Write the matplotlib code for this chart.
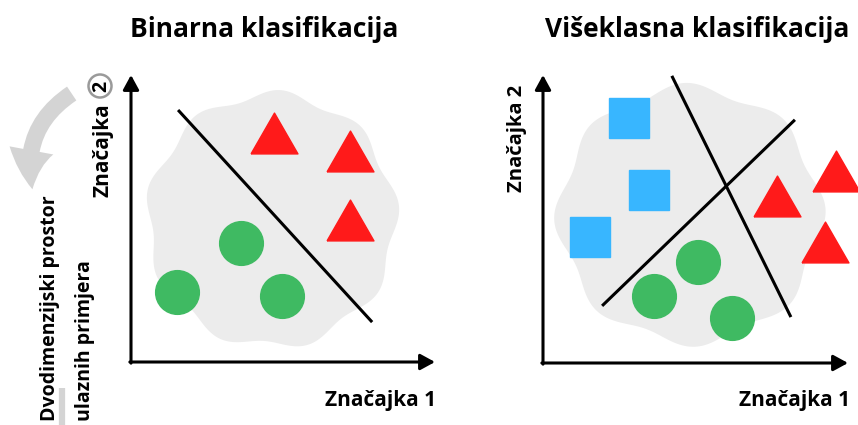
import numpy as np
import matplotlib.pyplot as plt
from matplotlib.patches import FancyArrowPatch, Circle

plt.rcParams['font.family'] = ['Open Sans', 'DejaVu Sans']

# --- data (feature space of each panel) ---
left_tri_x = [4.98, 7.63, 7.63]
left_tri_y = [7.98, 7.35, 4.95]
left_circ_x = [3.83, 1.60, 5.26]
left_circ_y = [4.15, 2.44, 2.30]
left_line_x = [1.64, 8.40]
left_line_y = [8.78, 1.39]

right_sq_x = [3.00, 3.69, 1.64]
right_sq_y = [8.54, 6.03, 4.39]
right_tri_x = [10.21, 8.15, 9.83]
right_tri_y = [6.69, 5.82, 4.22]
right_circ_x = [5.40, 3.87, 6.59]
right_circ_y = [3.52, 2.33, 1.57]
right_line1_x = [4.49, 8.64]
right_line1_y = [10.0, 1.60]
right_line2_x = [2.06, 8.78]
right_line2_y = [1.99, 8.47]

RED = '#ff1a1a'
GREEN = '#3fba62'
BLUE = '#38b6ff'
BLOB = '#ececec'

tri = [(-1, -0.87), (1, -0.87), (0, 0.87), (-1, -0.87)]

fig = plt.figure(figsize=(8.58, 4.25), dpi=100)

# overlay in pixel units for the loose text / decorations
ov = fig.add_axes([0, 0, 1, 1])
ov.set_xlim(0, 858)
ov.set_ylim(425, 0)
ov.axis('off')


def blob(ax, cx, cy, rx, ry, k, amp, phase):
    t = np.linspace(0, 2 * np.pi, 400)
    r = 1 + amp * np.sin(k * t + phase)
    ax.fill(cx + rx * r * np.cos(t), cy + ry * r * np.sin(t), color=BLOB, lw=0, zorder=1)


def axis_arrows(ax):
    x0, x1 = ax.get_xlim()
    y0, y1 = ax.get_ylim()
    kw = dict(arrowstyle='-|>,head_length=0.55,head_width=0.3', lw=2.2, color='black',
              shrinkA=0, shrinkB=0, mutation_scale=16)
    ax.annotate('', xy=(x1, y0), xytext=(x0 - 0.04, y0), arrowprops=kw, annotation_clip=False)
    ax.annotate('', xy=(x0, y1), xytext=(x0, y0 - 0.04), arrowprops=kw, annotation_clip=False)


# left panel
axL = fig.add_axes([131 / 858, 63 / 425, 304 / 858, 287 / 425])
axL.set_xlim(0, 10.59)
axL.set_ylim(0, 10.0)
axL.axis('off')
blob(axL, 4.91, 4.95, 4.30, 4.38, 9, 0.035, 0.6)
axL.plot(left_line_x, left_line_y, color='black', lw=2.2, zorder=3, solid_capstyle='butt')
axL.plot(left_tri_x, left_tri_y, ls='none', marker=tri, ms=33.8, color=RED, zorder=4)
axL.plot(left_circ_x, left_circ_y, ls='none', marker='o', ms=31.5, color=GREEN, zorder=4)
axis_arrows(axL)

# right panel
axR = fig.add_axes([543 / 858, 62 / 425, 305 / 858, 288 / 425])
axR.set_xlim(0, 10.63)
axR.set_ylim(0, 10.03)
axR.axis('off')
blob(axR, 5.12, 5.16, 4.55, 4.42, 8, 0.04, 1.3)
axR.plot(right_line1_x, right_line1_y, color='black', lw=2.2, zorder=3, solid_capstyle='butt')
axR.plot(right_line2_x, right_line2_y, color='black', lw=2.2, zorder=3, solid_capstyle='butt')
axR.plot(right_sq_x, right_sq_y, ls='none', marker='s', ms=28.5, color=BLUE, zorder=4, clip_on=False)
axR.plot(right_tri_x, right_tri_y, ls='none', marker=tri, ms=33.8, color=RED, zorder=4, clip_on=False)
axR.plot(right_circ_x, right_circ_y, ls='none', marker='o', ms=31.5, color=GREEN, zorder=4)
axis_arrows(axR)

# titles and axis labels
ov.text(264, 37, 'Binarna klasifikacija', fontsize=19, fontweight='bold', ha='center', va='baseline')
ov.text(697, 37, 'Višeklasna klasifikacija', fontsize=19, fontweight='bold', ha='center', va='baseline')
ov.text(436, 406, 'Značajka 1', fontsize=15, fontweight='bold', ha='right', va='baseline')
ov.text(850, 406, 'Značajka 1', fontsize=15, fontweight='bold', ha='right', va='baseline')
ov.text(109, 197, 'Značajka', fontsize=15, fontweight='bold', rotation=90,
        rotation_mode='anchor', ha='left', va='baseline')
ov.add_patch(Circle((100, 86), 11.5, facecolor='white', edgecolor='#9a9a9a', lw=1.8))
ov.text(101, 86, '2', fontsize=14, fontweight='bold', rotation=90, ha='center', va='center')
ov.text(522, 192, 'Značajka 2', fontsize=14.5, fontweight='bold', rotation=90,
        rotation_mode='anchor', ha='left', va='baseline')

# side note with grey arrows
ov.text(55, 421, 'Dvodimenzijski prostor', fontsize=14, fontweight='bold', rotation=90,
        rotation_mode='anchor', ha='left', va='baseline')
ov.text(90, 421, 'ulaznih primjera', fontsize=14, fontweight='bold', rotation=90,
        rotation_mode='anchor', ha='left', va='baseline')
ov.add_patch(FancyArrowPatch((74, 92), (33, 192), connectionstyle='arc3,rad=0.35',
                             arrowstyle='simple,head_width=1.6,head_length=1.4,tail_width=0.6',
                             mutation_scale=20, color='#d4d4d4', lw=0))
ov.plot([62, 62], [388, 425], color='#d4d4d4', lw=4.5, solid_capstyle='butt')

fig.savefig('out.png', dpi=100)
